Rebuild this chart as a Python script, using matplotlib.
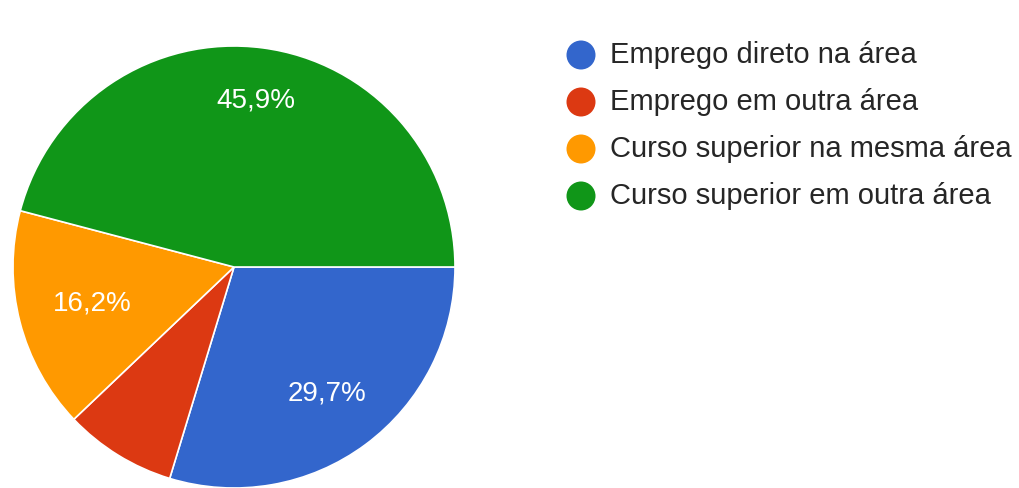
import matplotlib
matplotlib.use("Agg")
import matplotlib.pyplot as plt
from matplotlib.patches import Circle
import numpy as np

# Survey answers (share of respondents, %)
categories = [
    "Emprego direto na área",
    "Emprego em outra área",
    "Curso superior na mesma área",
    "Curso superior em outra área",
]
shares = [29.7, 8.2, 16.2, 45.9]
colors = ["#3366CC", "#DC3912", "#FF9900", "#109618"]

plt.rcParams["font.family"] = ["Liberation Sans", "DejaVu Sans"]

W, H = 1020, 488
fig = plt.figure(figsize=(W / 100, H / 100), dpi=100)
ax = fig.add_axes([0, 0, 1, 1])

cx, cy, r = 234, H - 267, 221
wedges, _ = ax.pie(
    shares, colors=colors, startangle=0, counterclock=False,
    center=(cx, cy), radius=r, frame=True,
    wedgeprops=dict(edgecolor="white", linewidth=1.2),
)
ax.set_xlim(0, W)
ax.set_ylim(0, H)
ax.set_aspect("equal")
ax.axis("off")

# Percentage labels inside slices large enough to hold them
label_dist = [0.71, 0.0, 0.66, 0.76]
for w, v, d in zip(wedges, shares, label_dist):
    if v < 10:
        continue
    mid = np.deg2rad((w.theta1 + w.theta2) / 2)
    ax.text(cx + d * r * np.cos(mid), cy + d * r * np.sin(mid),
            f"{v:.1f}".replace(".", ",") + "%",
            color="white", fontsize=20, ha="center", va="center")

# Legend
lx, ly0, step = 581, H - 55, 47
for i, (lab, c) in enumerate(zip(categories, colors)):
    y = ly0 - i * step
    ax.add_patch(Circle((lx, y), 14.5, color=c, lw=0))
    ax.text(lx + 29, y, lab, fontsize=21, color="#262626",
            ha="left", va="center")

fig.savefig("out.png", dpi=100)
